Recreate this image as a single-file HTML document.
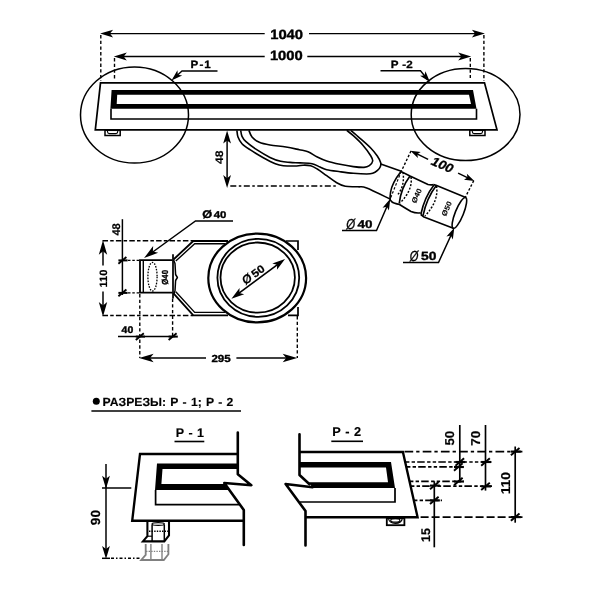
<!DOCTYPE html>
<html lang="ru">
<head>
<meta charset="utf-8">
<title>Чертёж</title>
<style>
html,body{margin:0;padding:0;background:#fff;}
body{width:600px;height:600px;overflow:hidden;}
svg{display:block;will-change:transform;}
svg text{font-family:"Liberation Sans",sans-serif;text-rendering:geometricPrecision;}
</style>
</head>
<body>
<svg width="600" height="600" viewBox="0 0 600 600">
<rect width="600" height="600" fill="#fff"/>
<line x1="108.00" y1="33.60" x2="264.70" y2="33.60" stroke="#000" stroke-width="1.38" stroke-linecap="butt"/>
<line x1="309.00" y1="33.60" x2="477.00" y2="33.60" stroke="#000" stroke-width="1.38" stroke-linecap="butt"/>
<path d="M100.10,33.60 L113.10,29.70 L110.00,33.60 L113.10,37.50 Z" fill="#000"/>
<path d="M484.90,33.60 L471.90,37.50 L475.00,33.60 L471.90,29.70 Z" fill="#000"/>
<text transform="translate(270.21 38.50) scale(1.099 1)" font-size="13.43" font-weight="bold" font-style="normal" stroke="#000" stroke-width="0.381" stroke-linejoin="round">1040</text>
<line x1="122.00" y1="56.50" x2="264.70" y2="56.50" stroke="#000" stroke-width="1.38" stroke-linecap="butt"/>
<line x1="307.30" y1="56.50" x2="463.00" y2="56.50" stroke="#000" stroke-width="1.38" stroke-linecap="butt"/>
<path d="M113.80,56.50 L126.80,52.60 L123.70,56.50 L126.80,60.40 Z" fill="#000"/>
<path d="M471.20,56.50 L458.20,60.40 L461.30,56.50 L458.20,52.60 Z" fill="#000"/>
<text transform="translate(269.91 59.80) scale(1.099 1)" font-size="13.43" font-weight="bold" font-style="normal" stroke="#000" stroke-width="0.381" stroke-linejoin="round">1000</text>
<line x1="100.80" y1="35.00" x2="100.80" y2="81.00" stroke="#000" stroke-width="1.38" stroke-dasharray="3.4 2.3" stroke-linecap="butt"/>
<line x1="114.50" y1="58.00" x2="114.50" y2="80.00" stroke="#000" stroke-width="1.38" stroke-dasharray="3.4 2.3" stroke-linecap="butt"/>
<line x1="470.30" y1="58.00" x2="470.30" y2="78.00" stroke="#000" stroke-width="1.38" stroke-dasharray="3.4 2.3" stroke-linecap="butt"/>
<line x1="483.90" y1="35.00" x2="483.90" y2="81.00" stroke="#000" stroke-width="1.38" stroke-dasharray="3.4 2.3" stroke-linecap="butt"/>
<path d="M100.50,82.80 L484.50,82.80 L497.00,129.80 L95.30,129.80 Z" fill="none" stroke="#000" stroke-width="1.72" stroke-linejoin="miter"/>
<path fill="#000" fill-rule="evenodd" d="M111.6,90 L473,90 L476.5,108.8 L110.4,108.8 Z M117.2,94.8 L469,94.8 L471,103.9 L116.7,103.9 Z"/>
<path d="M111.00,108.80 L111.00,119.00 L476.50,119.00 L476.50,108.80" fill="none" stroke="#000" stroke-width="1.61" stroke-linejoin="miter"/>
<rect x="105" y="130.3" width="15.2" height="5.2" fill="none" stroke="#000" stroke-width="1.5"/>
<path d="M107.5,130.6 v1.2 q0,1.8 2,1.8 h6.2 q2,0 2,-1.8 v-1.2" fill="none" stroke="#000" stroke-width="1.1"/>
<rect x="469.8" y="130.3" width="15.2" height="5.2" fill="none" stroke="#000" stroke-width="1.5"/>
<path d="M472.3,130.6 v1.2 q0,1.8 2,1.8 h6.2 q2,0 2,-1.8 v-1.2" fill="none" stroke="#000" stroke-width="1.1"/>
<ellipse cx="134.5" cy="115" rx="54" ry="48" fill="none" stroke="#000" stroke-width="1.5"/>
<ellipse cx="465.6" cy="114.6" rx="54.4" ry="46" fill="none" stroke="#000" stroke-width="1.5"/>
<text transform="translate(190.54 68.05) scale(1.100 1)" font-size="10.57" font-weight="bold" font-style="normal" word-spacing="-1.935" stroke="#000" stroke-width="0.300" stroke-linejoin="round">Р - 1</text>
<path d="M217.50,71.00 L182.00,71.00 L174.00,78.20" fill="none" stroke="#000" stroke-width="1.38" stroke-linejoin="miter"/>
<path d="M171.48,80.47 L177.46,70.37 L177.80,74.78 L182.14,75.58 Z" fill="#000"/>
<text transform="translate(390.84 68.05) scale(1.100 1)" font-size="10.57" font-weight="bold" font-style="normal" word-spacing="0.468" stroke="#000" stroke-width="0.300" stroke-linejoin="round">Р -2</text>
<path d="M380.50,70.80 L420.50,70.80 L427.50,79.50" fill="none" stroke="#000" stroke-width="1.38" stroke-linejoin="miter"/>
<path d="M429.95,82.04 L420.07,75.71 L424.49,75.52 L425.43,71.21 Z" fill="#000"/>
<line x1="227.10" y1="136.00" x2="227.10" y2="183.00" stroke="#000" stroke-width="1.49" stroke-linecap="butt"/>
<path d="M227.10,130.50 L231.00,143.50 L227.10,140.40 L223.20,143.50 Z" fill="#000"/>
<path d="M227.10,188.10 L223.20,175.10 L227.10,178.20 L231.00,175.10 Z" fill="#000"/>
<text transform="translate(219.10 157.40) rotate(-90.00) translate(-6.67 3.83) scale(1.109 1)" font-size="10.93" font-weight="bold" font-style="normal" stroke="#000" stroke-width="0.142" stroke-linejoin="round">48</text>
<line x1="230.30" y1="186.00" x2="336.00" y2="186.00" stroke="#000" stroke-width="1.49" stroke-dasharray="6 2.5 2.5 2.5" stroke-linecap="butt"/>
<path d="M236.90,130.30 C237.08,131.42 237.15,134.77 238.00,137.00 C238.85,139.23 240.00,141.58 242.00,143.70 C244.00,145.82 246.45,147.37 250.00,149.70 C253.55,152.03 259.08,155.37 263.30,157.70 C267.52,160.03 271.97,162.37 275.30,163.70 C278.63,165.03 279.73,165.32 283.30,165.70 C286.87,166.08 293.42,166.08 296.70,166.00 C299.98,165.92 300.67,165.25 303.00,165.20 C305.33,165.15 308.32,165.07 310.70,165.70 C313.08,166.33 314.63,167.33 317.30,169.00 C319.97,170.67 323.58,173.48 326.70,175.70 C329.82,177.92 332.90,180.53 336.00,182.30 C339.10,184.07 341.63,185.55 345.30,186.30 C348.97,187.05 354.43,186.52 358.00,186.80 C361.57,187.08 361.37,185.97 366.70,188.00 C372.03,190.03 386.12,197.17 390.00,199.00" fill="none" stroke="#000" stroke-width="1.61" stroke-linejoin="round" stroke-linecap="butt" />
<path d="M240.70,130.30 C240.92,131.30 241.12,134.40 242.00,136.30 C242.88,138.20 243.55,139.47 246.00,141.70 C248.45,143.93 252.70,147.08 256.70,149.70 C260.70,152.32 266.00,155.47 270.00,157.40 C274.00,159.33 277.37,160.47 280.70,161.30 C284.03,162.13 286.78,162.13 290.00,162.40 C293.22,162.67 296.33,162.68 300.00,162.90 C303.67,163.12 308.67,163.02 312.00,163.70 C315.33,164.38 317.55,166.00 320.00,167.00 C322.45,168.00 323.37,168.92 326.70,169.70 C330.03,170.48 335.57,171.10 340.00,171.70 C344.43,172.30 348.85,172.92 353.30,173.30 C357.75,173.68 363.47,174.00 366.70,174.00 C369.93,174.00 370.90,173.92 372.70,173.30 C374.50,172.68 376.23,171.40 377.50,170.30 C378.77,169.20 379.77,167.97 380.30,166.70 C380.83,165.43 381.20,164.48 380.70,162.70 C380.20,160.92 378.97,158.45 377.30,156.00 C375.63,153.55 373.58,150.95 370.70,148.00 C367.82,145.05 363.33,141.25 360.00,138.30 C356.67,135.35 352.25,131.63 350.70,130.30" fill="none" stroke="#000" stroke-width="1.61" stroke-linejoin="round" stroke-linecap="butt" />
<path d="M248.90,130.30 C249.42,131.42 250.27,135.00 252.00,137.00 C253.73,139.00 256.30,140.97 259.30,142.30 C262.30,143.63 265.55,144.22 270.00,145.00 C274.45,145.78 281.12,146.22 286.00,147.00 C290.88,147.78 295.63,148.92 299.30,149.70 C302.97,150.48 305.00,150.48 308.00,151.70 C311.00,152.92 314.18,155.45 317.30,157.00 C320.42,158.55 322.92,159.78 326.70,161.00 C330.48,162.22 335.57,163.37 340.00,164.30 C344.43,165.23 349.30,166.08 353.30,166.60 C357.30,167.12 361.33,167.55 364.00,167.40 C366.67,167.25 367.85,166.77 369.30,165.70 C370.75,164.63 372.47,162.67 372.70,161.00 C372.93,159.33 372.37,158.37 370.70,155.70 C369.03,153.03 365.60,148.33 362.70,145.00 C359.80,141.67 355.97,138.15 353.30,135.70 C350.63,133.25 347.80,131.20 346.70,130.30" fill="none" stroke="#000" stroke-width="1.61" stroke-linejoin="round" stroke-linecap="butt" />
<line x1="380.70" y1="164.00" x2="401.30" y2="171.30" stroke="#000" stroke-width="1.61" stroke-linecap="butt"/>
<path d="M401,171.5 Q392,183 390.6,192 Q389.8,197 390.2,200" fill="none" stroke="#000" stroke-width="1.61" stroke-linejoin="round" stroke-linecap="butt" />
<path d="M410,176 Q401,188 399.2,203.5" fill="none" stroke="#000" stroke-width="1.61" stroke-linejoin="round" stroke-linecap="butt" />
<path d="M401,171.5 L410,176 L428,184.5 Q431,185.3 433.5,184.6" fill="none" stroke="#000" stroke-width="1.61" stroke-linejoin="round" stroke-linecap="butt" />
<path d="M390.2,200 Q392,202.5 394,203 Q397,204 399.5,204.5 Q405,208 411,211.5 Q416,213.5 420.5,212.8" fill="none" stroke="#000" stroke-width="1.61" stroke-linejoin="round" stroke-linecap="butt" />
<path d="M403,172 Q405,186 397.5,195" fill="none" stroke="#000" stroke-width="1.44" stroke-linejoin="round" stroke-linecap="butt" stroke-dasharray="2 1.6" />
<path d="M411,177 Q413,190 400,203" fill="none" stroke="#000" stroke-width="1.44" stroke-linejoin="round" stroke-linecap="butt" stroke-dasharray="2 1.6" />
<path d="M434,185 Q424.5,197 420.8,214.5" fill="none" stroke="#000" stroke-width="1.61" stroke-linejoin="round" stroke-linecap="butt" />
<path d="M436.3,185.6 Q426.8,198 423,215.6" fill="none" stroke="#000" stroke-width="1.61" stroke-linejoin="round" stroke-linecap="butt" />
<path d="M433.5,184.6 L436,185.3 L465.8,197.5" fill="none" stroke="#000" stroke-width="1.61" stroke-linejoin="round" stroke-linecap="butt" />
<path d="M420.8,214.5 L424,217 L453.3,228.3" fill="none" stroke="#000" stroke-width="1.61" stroke-linejoin="round" stroke-linecap="butt" />
<ellipse cx="459.4" cy="212.9" rx="16.6" ry="4.1" transform="rotate(112 459.4 212.9)" fill="none" stroke="#000" stroke-width="1.6"/>
<path d="M436.5,186 Q439,201 425,216" fill="none" stroke="#000" stroke-width="1.44" stroke-linejoin="round" stroke-linecap="butt" stroke-dasharray="2 1.6" />
<text transform="translate(416.50 195.80) rotate(-66.00) translate(-7.67 2.60) scale(1.125 1)" font-size="7.22" font-weight="bold" font-style="normal" stroke="#000" stroke-width="0.094" stroke-linejoin="round">Ø40</text>
<text transform="translate(446.60 208.60) rotate(-66.00) translate(-7.67 2.60) scale(1.125 1)" font-size="7.22" font-weight="bold" font-style="normal" stroke="#000" stroke-width="0.094" stroke-linejoin="round">Ø50</text>
<line x1="411.00" y1="151.00" x2="401.30" y2="171.30" stroke="#000" stroke-width="1.38" stroke-dasharray="2.5 1.8" stroke-linecap="butt"/>
<line x1="401.30" y1="171.30" x2="390.00" y2="199.50" stroke="#000" stroke-width="1.15" stroke-dasharray="2.5 1.8" stroke-linecap="butt"/>
<line x1="473.75" y1="180.60" x2="465.30" y2="197.30" stroke="#000" stroke-width="1.38" stroke-dasharray="2.5 1.8" stroke-linecap="butt"/>
<line x1="415.00" y1="152.90" x2="428.10" y2="159.40" stroke="#000" stroke-width="1.49" stroke-linecap="butt"/>
<line x1="458.10" y1="173.10" x2="470.00" y2="178.80" stroke="#000" stroke-width="1.49" stroke-linecap="butt"/>
<path d="M410.37,150.70 L420.73,151.94 L417.33,153.99 L417.91,157.91 Z" fill="#000"/>
<path d="M474.38,180.90 L464.02,179.66 L467.42,177.61 L466.84,173.69 Z" fill="#000"/>
<text transform="translate(442.50 164.80) rotate(23.75) translate(-11.42 4.45) scale(1.069 1)" font-size="12.71" font-weight="bold" font-style="italic" stroke="#000" stroke-width="0.290" stroke-linejoin="round">100</text>
<text transform="translate(357.43 227.60) scale(1.190 1)" font-size="11.29" font-weight="bold" font-style="normal" stroke="#000" stroke-width="0.365" stroke-linejoin="round">40</text>
<text transform="translate(346.18 228.75) scale(0.798 1)" font-size="14.32" font-weight="normal" font-style="italic" stroke="#000" stroke-width="0.334" stroke-linejoin="round">Ø</text>
<path d="M342.00,230.50 L376.50,230.50 L388.50,203.00" fill="none" stroke="#000" stroke-width="1.49" stroke-linejoin="miter"/>
<path d="M390.28,198.86 L388.93,210.52 L386.83,206.63 L382.53,207.67 Z" fill="#000"/>
<text transform="translate(420.98 260.00) scale(1.168 1)" font-size="11.86" font-weight="bold" font-style="normal" stroke="#000" stroke-width="0.369" stroke-linejoin="round">50</text>
<text transform="translate(409.87 261.15) scale(0.767 1)" font-size="14.59" font-weight="normal" font-style="italic" stroke="#000" stroke-width="0.340" stroke-linejoin="round">Ø</text>
<path d="M403.00,262.50 L438.50,262.50 L452.50,232.00" fill="none" stroke="#000" stroke-width="1.49" stroke-linejoin="miter"/>
<path d="M454.29,227.86 L452.83,239.51 L450.77,235.60 L446.46,236.60 Z" fill="#000"/>
<line x1="102.50" y1="240.80" x2="193.00" y2="240.80" stroke="#000" stroke-width="1.49" stroke-dasharray="5.5 2.2 3.5 2.2" stroke-linecap="butt"/>
<line x1="102.50" y1="315.60" x2="193.00" y2="315.60" stroke="#000" stroke-width="1.49" stroke-dasharray="5.5 2.2 3.5 2.2" stroke-linecap="butt"/>
<line x1="103.00" y1="249.00" x2="103.00" y2="265.50" stroke="#000" stroke-width="1.49" stroke-linecap="butt"/>
<line x1="103.00" y1="291.50" x2="103.00" y2="308.00" stroke="#000" stroke-width="1.49" stroke-linecap="butt"/>
<path d="M103.00,240.30 L107.20,254.80 L103.00,251.30 L98.80,254.80 Z" fill="#000"/>
<path d="M103.00,316.50 L98.80,302.00 L103.00,305.50 L107.20,302.00 Z" fill="#000"/>
<text transform="translate(103.00 278.50) rotate(-90.00) translate(-9.07 3.70) scale(1.052 1)" font-size="10.57" font-weight="bold" font-style="normal" stroke="#000" stroke-width="0.195" stroke-linejoin="round">110</text>
<line x1="122.40" y1="219.20" x2="122.40" y2="295.00" stroke="#000" stroke-width="1.49" stroke-linecap="butt"/>
<line x1="118.40" y1="263.80" x2="126.40" y2="257.00" stroke="#000" stroke-width="1.84" stroke-linecap="butt"/>
<line x1="118.40" y1="260.40" x2="127.60" y2="260.40" stroke="#000" stroke-width="2.02" stroke-linecap="butt"/>
<line x1="118.40" y1="296.30" x2="126.40" y2="289.50" stroke="#000" stroke-width="1.84" stroke-linecap="butt"/>
<line x1="118.40" y1="292.90" x2="127.60" y2="292.90" stroke="#000" stroke-width="2.02" stroke-linecap="butt"/>
<text transform="translate(115.80 229.50) rotate(-90.00) translate(-6.12 3.90) scale(0.999 1)" font-size="11.14" font-weight="bold" font-style="normal" stroke="#000" stroke-width="0.200" stroke-linejoin="round">48</text>
<line x1="128.00" y1="260.40" x2="139.50" y2="260.40" stroke="#000" stroke-width="1.38" stroke-dasharray="2.5 1.8" stroke-linecap="butt"/>
<line x1="128.00" y1="292.90" x2="139.50" y2="292.90" stroke="#000" stroke-width="1.38" stroke-dasharray="2.5 1.8" stroke-linecap="butt"/>
<path d="M172.50,260.20 L140.00,260.20 L140.00,292.60 L172.50,292.60" fill="none" stroke="#000" stroke-width="1.84" stroke-linejoin="miter"/>
<line x1="143.30" y1="260.20" x2="143.30" y2="292.60" stroke="#000" stroke-width="1.38" stroke-linecap="butt"/>
<ellipse cx="152.5" cy="276.7" rx="4.6" ry="14.3" fill="none" stroke="#000" stroke-width="1.3" stroke-dasharray="1.6 1.3"/>
<text transform="translate(164.90 277.40) rotate(-90.00) translate(-7.36 3.15) scale(0.890 1)" font-size="8.75" font-weight="bold" font-style="normal" stroke="#000" stroke-width="0.317" stroke-linejoin="round">Ø40</text>
<line x1="173.00" y1="254.20" x2="173.00" y2="298.50" stroke="#000" stroke-width="1.72" stroke-linecap="butt"/>
<path d="M173.6,260 L175,263.5 L175.6,274.5 L177.4,277.5 L175.6,280.5 L175,291 L173.6,294.5" fill="none" stroke="#000" stroke-width="1.49" stroke-linejoin="round" stroke-linecap="butt" />
<path d="M173.50,259.50 L193.30,241.00 L228.00,241.00" fill="none" stroke="#000" stroke-width="1.84" stroke-linejoin="miter"/>
<path d="M175.80,261.00 L194.70,243.80 L225.00,243.80" fill="none" stroke="#000" stroke-width="1.38" stroke-linejoin="miter"/>
<path d="M173.50,293.30 L193.30,315.30 L228.00,315.30" fill="none" stroke="#000" stroke-width="1.84" stroke-linejoin="miter"/>
<path d="M175.80,291.80 L194.70,312.40 L225.00,312.40" fill="none" stroke="#000" stroke-width="1.38" stroke-linejoin="miter"/>
<path d="M286.00,241.00 L298.00,241.00 L298.00,250.00" fill="none" stroke="#000" stroke-width="1.72" stroke-linejoin="miter"/>
<path d="M288.00,315.30 L298.00,315.30 L298.00,307.00" fill="none" stroke="#000" stroke-width="1.72" stroke-linejoin="miter"/>
<ellipse cx="257.2" cy="278" rx="48.9" ry="44.4" fill="#fff" stroke="#000" stroke-width="2.2"/>
<ellipse cx="258.3" cy="277.8" rx="40.9" ry="39" fill="none" stroke="#000" stroke-width="1.8"/>
<ellipse cx="257.7" cy="277.6" rx="37.2" ry="35.1" fill="none" stroke="#000" stroke-width="1.8"/>
<line x1="238.00" y1="293.90" x2="278.50" y2="263.80" stroke="#000" stroke-width="1.61" stroke-linecap="butt"/>
<path d="M231.44,298.82 L239.54,287.93 L239.38,292.90 L244.19,294.18 Z" fill="#000"/>
<path d="M285.06,258.88 L276.96,269.77 L277.12,264.80 L272.31,263.52 Z" fill="#000"/>
<text transform="translate(257.90 271.20) rotate(-36.68) translate(-6.74 3.83) scale(1.122 1)" font-size="10.93" font-weight="bold" font-style="normal" stroke="#000" stroke-width="0.236" stroke-linejoin="round">50</text>
<text transform="translate(246.90 278.50) rotate(-36.68) translate(-5.12 4.65) scale(0.995 1)" font-size="12.40" font-weight="bold" font-style="italic" stroke="#000" stroke-width="0.100" stroke-linejoin="round">Ø</text>
<text transform="translate(213.77 217.60) scale(1.159 1)" font-size="9.86" font-weight="bold" font-style="normal" stroke="#000" stroke-width="0.370" stroke-linejoin="round">40</text>
<text transform="translate(202.19 218.30) scale(1.149 1)" font-size="11.07" font-weight="bold" font-style="normal" stroke="#000" stroke-width="0.372" stroke-linejoin="round">Ø</text>
<path d="M233.00,221.00 L195.50,221.00 L150.00,254.00" fill="none" stroke="#000" stroke-width="1.49" stroke-linejoin="miter"/>
<path d="M144.04,258.12 L153.16,246.09 L152.86,251.55 L158.18,252.83 Z" fill="#000"/>
<line x1="139.80" y1="294.00" x2="139.80" y2="358.00" stroke="#000" stroke-width="1.38" stroke-dasharray="3.4 2.3" stroke-linecap="butt"/>
<line x1="172.60" y1="298.50" x2="172.60" y2="337.00" stroke="#000" stroke-width="1.38" stroke-dasharray="3.4 2.3" stroke-linecap="butt"/>
<line x1="297.30" y1="316.00" x2="297.30" y2="358.00" stroke="#000" stroke-width="1.38" stroke-dasharray="3.4 2.3" stroke-linecap="butt"/>
<line x1="118.00" y1="336.60" x2="175.00" y2="336.60" stroke="#000" stroke-width="1.49" stroke-linecap="butt"/>
<line x1="135.80" y1="340.00" x2="143.80" y2="333.20" stroke="#000" stroke-width="1.84" stroke-linecap="butt"/>
<line x1="135.80" y1="336.60" x2="145.00" y2="336.60" stroke="#000" stroke-width="2.02" stroke-linecap="butt"/>
<line x1="168.60" y1="340.00" x2="176.60" y2="333.20" stroke="#000" stroke-width="1.84" stroke-linecap="butt"/>
<line x1="168.60" y1="336.60" x2="177.80" y2="336.60" stroke="#000" stroke-width="2.02" stroke-linecap="butt"/>
<text transform="translate(121.59 333.40) scale(1.078 1)" font-size="9.71" font-weight="bold" font-style="normal" stroke="#000" stroke-width="0.385" stroke-linejoin="round">40</text>
<line x1="148.00" y1="358.00" x2="206.00" y2="358.00" stroke="#000" stroke-width="1.49" stroke-linecap="butt"/>
<line x1="236.40" y1="358.00" x2="288.00" y2="358.00" stroke="#000" stroke-width="1.49" stroke-linecap="butt"/>
<path d="M139.10,358.00 L153.60,353.80 L150.10,358.00 L153.60,362.20 Z" fill="#000"/>
<path d="M297.20,358.00 L282.70,362.20 L286.20,358.00 L282.70,353.80 Z" fill="#000"/>
<text transform="translate(211.45 361.60) scale(1.123 1)" font-size="10.29" font-weight="bold" font-style="normal" stroke="#000" stroke-width="0.377" stroke-linejoin="round">295</text>
<circle cx="96.3" cy="401.3" r="3.5" fill="#000"/>
<text transform="translate(102.62 405.53) scale(1.035 1)" font-size="11.79" font-weight="bold" font-style="normal" word-spacing="0.810" stroke="#000" stroke-width="0.150" stroke-linejoin="round">РАЗРЕЗЫ: Р - 1; Р - 2</text>
<line x1="91.40" y1="411.00" x2="241.00" y2="411.00" stroke="#000" stroke-width="1.49" stroke-linecap="butt"/>
<text transform="translate(175.80 437.32) scale(1.000 1)" font-size="12.50" font-weight="bold" font-style="normal" word-spacing="0.925" stroke="#000" stroke-width="0.150" stroke-linejoin="round">Р - 1</text>
<line x1="174.50" y1="441.50" x2="204.30" y2="441.50" stroke="#000" stroke-width="1.61" stroke-linecap="butt"/>
<text transform="translate(332.18 435.53) scale(1.000 1)" font-size="12.79" font-weight="bold" font-style="normal" word-spacing="1.017" stroke="#000" stroke-width="0.150" stroke-linejoin="round">Р - 2</text>
<line x1="331.30" y1="441.30" x2="363.00" y2="441.30" stroke="#000" stroke-width="1.61" stroke-linecap="butt"/>
<path d="M237.30,454.00 L140.00,454.00 L132.20,520.80 L243.80,520.80" fill="none" stroke="#000" stroke-width="2.36" stroke-linejoin="miter"/>
<path fill="#000" d="M238,463.4 L157,463.4 L155,490 L228.6,490 L224.3,484 L161.4,484 L162.5,468.9 L238,468.9 Z"/>
<path d="M155.60,490.00 L155.60,504.60 L239.00,504.60" fill="none" stroke="#000" stroke-width="1.72" stroke-linejoin="miter"/>
<path d="M237.8,432.5 L237.8,474.3 L251.3,485.2 L224.3,483 L243.8,510 L243.8,545" fill="none" stroke="#000" stroke-width="2.6" stroke-linejoin="round" stroke-linecap="round"/>
<line x1="106.00" y1="464.00" x2="106.00" y2="555.00" stroke="#000" stroke-width="1.49" stroke-linecap="butt"/>
<path d="M106.00,488.70 L102.10,475.70 L106.00,478.80 L109.90,475.70 Z" fill="#000"/>
<path d="M106.00,559.00 L102.10,546.00 L106.00,549.10 L109.90,546.00 Z" fill="#000"/>
<line x1="102.00" y1="488.00" x2="131.30" y2="488.00" stroke="#000" stroke-width="1.49" stroke-linecap="butt"/>
<line x1="102.00" y1="558.30" x2="110.00" y2="558.30" stroke="#000" stroke-width="1.49" stroke-linecap="butt"/>
<line x1="111.00" y1="558.30" x2="140.00" y2="558.30" stroke="#000" stroke-width="1.49" stroke-dasharray="3 2 1.5 2" stroke-linecap="butt"/>
<text transform="translate(95.00 517.55) rotate(-90.00) translate(-7.60 4.60) scale(1.042 1)" font-size="13.14" font-weight="bold" font-style="normal" stroke="#000" stroke-width="0.196" stroke-linejoin="round">90</text>
<path d="M147.40,521.50 L147.40,536.20 L142.90,541.40 L164.30,541.40 L169.00,535.40 L169.00,521.50" fill="none" stroke="#000" stroke-width="2.07" stroke-linejoin="miter"/>
<line x1="152.10" y1="524.50" x2="152.10" y2="541.00" stroke="#000" stroke-width="1.49" stroke-linecap="butt"/>
<line x1="164.30" y1="524.50" x2="164.30" y2="541.00" stroke="#000" stroke-width="1.49" stroke-linecap="butt"/>
<line x1="147.40" y1="536.20" x2="152.10" y2="536.20" stroke="#000" stroke-width="1.15" stroke-linecap="butt"/>
<ellipse cx="158.2" cy="524" rx="6.2" ry="1.4" fill="none" stroke="#000" stroke-width="1.1"/>
<line x1="149.00" y1="531.30" x2="168.00" y2="531.30" stroke="#000" stroke-width="1.38" stroke-dasharray="1.4 1.2" stroke-linecap="butt"/>
<path d="M145.70,544.00 L145.70,554.80 L141.20,560.00 L163.80,560.00 L168.40,554.30 L168.40,544.00" fill="none" stroke="#808080" stroke-width="1.84" stroke-linejoin="miter"/>
<line x1="150.90" y1="544.00" x2="150.90" y2="560.00" stroke="#808080" stroke-width="1.38" stroke-linecap="butt"/>
<line x1="162.00" y1="544.00" x2="162.00" y2="560.00" stroke="#808080" stroke-width="1.38" stroke-linecap="butt"/>
<line x1="146.00" y1="551.30" x2="168.00" y2="551.30" stroke="#808080" stroke-width="1.26" stroke-dasharray="1.4 1.2" stroke-linecap="butt"/>
<path d="M299.50,452.00 L402.90,452.00 L417.60,517.20 L305.50,517.20" fill="none" stroke="#000" stroke-width="2.36" stroke-linejoin="miter"/>
<path fill="#000" d="M299.5,462 L391,462 L395,488 L312.5,488 L309,482.3 L388,482.3 L386,467.6 L299.5,467.6 Z"/>
<path d="M395.00,488.00 L395.00,502.00 L300.00,502.00" fill="none" stroke="#000" stroke-width="1.72" stroke-linejoin="miter"/>
<path d="M299.5,434.3 L299.5,475 L309.5,484.3" fill="none" stroke="#000" stroke-width="2.6" stroke-linejoin="round" stroke-linecap="round"/>
<path d="M312.5,487.3 L285.6,484 L305.5,511 L305.5,545.5" fill="none" stroke="#000" stroke-width="2.6" stroke-linejoin="round" stroke-linecap="round"/>
<rect x="386.8" y="518.2" width="17.6" height="7" fill="none" stroke="#000" stroke-width="1.8"/>
<ellipse cx="395.3" cy="520.4" rx="4.6" ry="1.7" fill="none" stroke="#000" stroke-width="1.2"/>
<path d="M388.6,519 Q389.5,523.3 395.3,523.3 Q401.2,523.3 402.2,519" fill="none" stroke="#000" stroke-width="1.2"/>
<line x1="404.50" y1="451.60" x2="522.50" y2="451.60" stroke="#000" stroke-width="1.67" stroke-dasharray="8.7 3 3.3 3.2" stroke-linecap="butt"/>
<line x1="406.00" y1="462.00" x2="491.50" y2="462.00" stroke="#000" stroke-width="1.67" stroke-dasharray="3.4 2.2 3.4 2.2 7.5 2.4" stroke-linecap="butt"/>
<line x1="407.00" y1="466.90" x2="463.00" y2="466.90" stroke="#000" stroke-width="1.67" stroke-dasharray="3.4 2.2 3.4 2.2 7.5 2.4" stroke-linecap="butt"/>
<line x1="410.00" y1="481.40" x2="464.00" y2="481.40" stroke="#000" stroke-width="1.67" stroke-dasharray="3.4 2.2 3.4 2.2 7.5 2.4" stroke-linecap="butt"/>
<line x1="411.00" y1="486.20" x2="492.00" y2="486.20" stroke="#000" stroke-width="1.67" stroke-dasharray="3.4 2.2 3.4 2.2 7.5 2.4" stroke-linecap="butt"/>
<line x1="414.00" y1="500.40" x2="442.00" y2="500.40" stroke="#000" stroke-width="1.67" stroke-dasharray="3.4 2.2 3.4 2.2 7.5 2.4" stroke-linecap="butt"/>
<line x1="420.60" y1="517.10" x2="522.50" y2="517.10" stroke="#000" stroke-width="1.67" stroke-dasharray="8 3" stroke-linecap="butt"/>
<line x1="459.80" y1="425.00" x2="459.80" y2="482.40" stroke="#000" stroke-width="1.67" stroke-linecap="butt"/>
<line x1="455.50" y1="465.65" x2="464.10" y2="458.35" stroke="#000" stroke-width="1.95" stroke-linecap="butt"/>
<line x1="455.50" y1="462.00" x2="465.39" y2="462.00" stroke="#000" stroke-width="2.15" stroke-linecap="butt"/>
<line x1="454.00" y1="470.65" x2="462.60" y2="463.35" stroke="#000" stroke-width="1.95" stroke-linecap="butt"/>
<line x1="454.00" y1="467.00" x2="463.89" y2="467.00" stroke="#000" stroke-width="2.15" stroke-linecap="butt"/>
<line x1="454.00" y1="485.15" x2="462.60" y2="477.85" stroke="#000" stroke-width="1.95" stroke-linecap="butt"/>
<line x1="454.00" y1="481.50" x2="463.89" y2="481.50" stroke="#000" stroke-width="2.15" stroke-linecap="butt"/>
<line x1="485.50" y1="425.00" x2="485.50" y2="490.60" stroke="#000" stroke-width="1.67" stroke-linecap="butt"/>
<line x1="481.20" y1="465.65" x2="489.80" y2="458.35" stroke="#000" stroke-width="1.95" stroke-linecap="butt"/>
<line x1="481.20" y1="462.00" x2="491.09" y2="462.00" stroke="#000" stroke-width="2.15" stroke-linecap="butt"/>
<line x1="481.20" y1="490.05" x2="489.80" y2="482.75" stroke="#000" stroke-width="1.95" stroke-linecap="butt"/>
<line x1="481.20" y1="486.40" x2="491.09" y2="486.40" stroke="#000" stroke-width="2.15" stroke-linecap="butt"/>
<line x1="515.20" y1="446.50" x2="515.20" y2="522.70" stroke="#000" stroke-width="1.67" stroke-linecap="butt"/>
<line x1="510.90" y1="455.25" x2="519.50" y2="447.95" stroke="#000" stroke-width="1.95" stroke-linecap="butt"/>
<line x1="510.90" y1="451.60" x2="520.79" y2="451.60" stroke="#000" stroke-width="2.15" stroke-linecap="butt"/>
<line x1="510.90" y1="520.75" x2="519.50" y2="513.45" stroke="#000" stroke-width="1.95" stroke-linecap="butt"/>
<line x1="510.90" y1="517.10" x2="520.79" y2="517.10" stroke="#000" stroke-width="2.15" stroke-linecap="butt"/>
<line x1="434.30" y1="481.30" x2="434.30" y2="547.30" stroke="#000" stroke-width="1.67" stroke-linecap="butt"/>
<line x1="430.00" y1="489.25" x2="438.60" y2="481.95" stroke="#000" stroke-width="1.95" stroke-linecap="butt"/>
<line x1="430.00" y1="485.60" x2="439.89" y2="485.60" stroke="#000" stroke-width="2.15" stroke-linecap="butt"/>
<line x1="430.00" y1="504.05" x2="438.60" y2="496.75" stroke="#000" stroke-width="1.95" stroke-linecap="butt"/>
<line x1="430.00" y1="500.40" x2="439.89" y2="500.40" stroke="#000" stroke-width="2.15" stroke-linecap="butt"/>
<text transform="translate(449.30 438.30) rotate(-90.00) translate(-7.30 4.50) scale(1.032 1)" font-size="12.86" font-weight="bold" font-style="normal" stroke="#000" stroke-width="0.197" stroke-linejoin="round">50</text>
<text transform="translate(475.10 438.30) rotate(-90.00) translate(-7.44 4.50) scale(1.042 1)" font-size="12.86" font-weight="bold" font-style="normal" stroke="#000" stroke-width="0.196" stroke-linejoin="round">70</text>
<text transform="translate(505.10 483.05) rotate(-90.00) translate(-11.28 4.50) scale(1.077 1)" font-size="12.86" font-weight="bold" font-style="normal" stroke="#000" stroke-width="0.193" stroke-linejoin="round">110</text>
<text transform="translate(425.80 534.90) rotate(-90.00) translate(-7.04 4.40) scale(0.983 1)" font-size="12.57" font-weight="bold" font-style="normal" stroke="#000" stroke-width="0.202" stroke-linejoin="round">15</text>
</svg>
</body>
</html>
